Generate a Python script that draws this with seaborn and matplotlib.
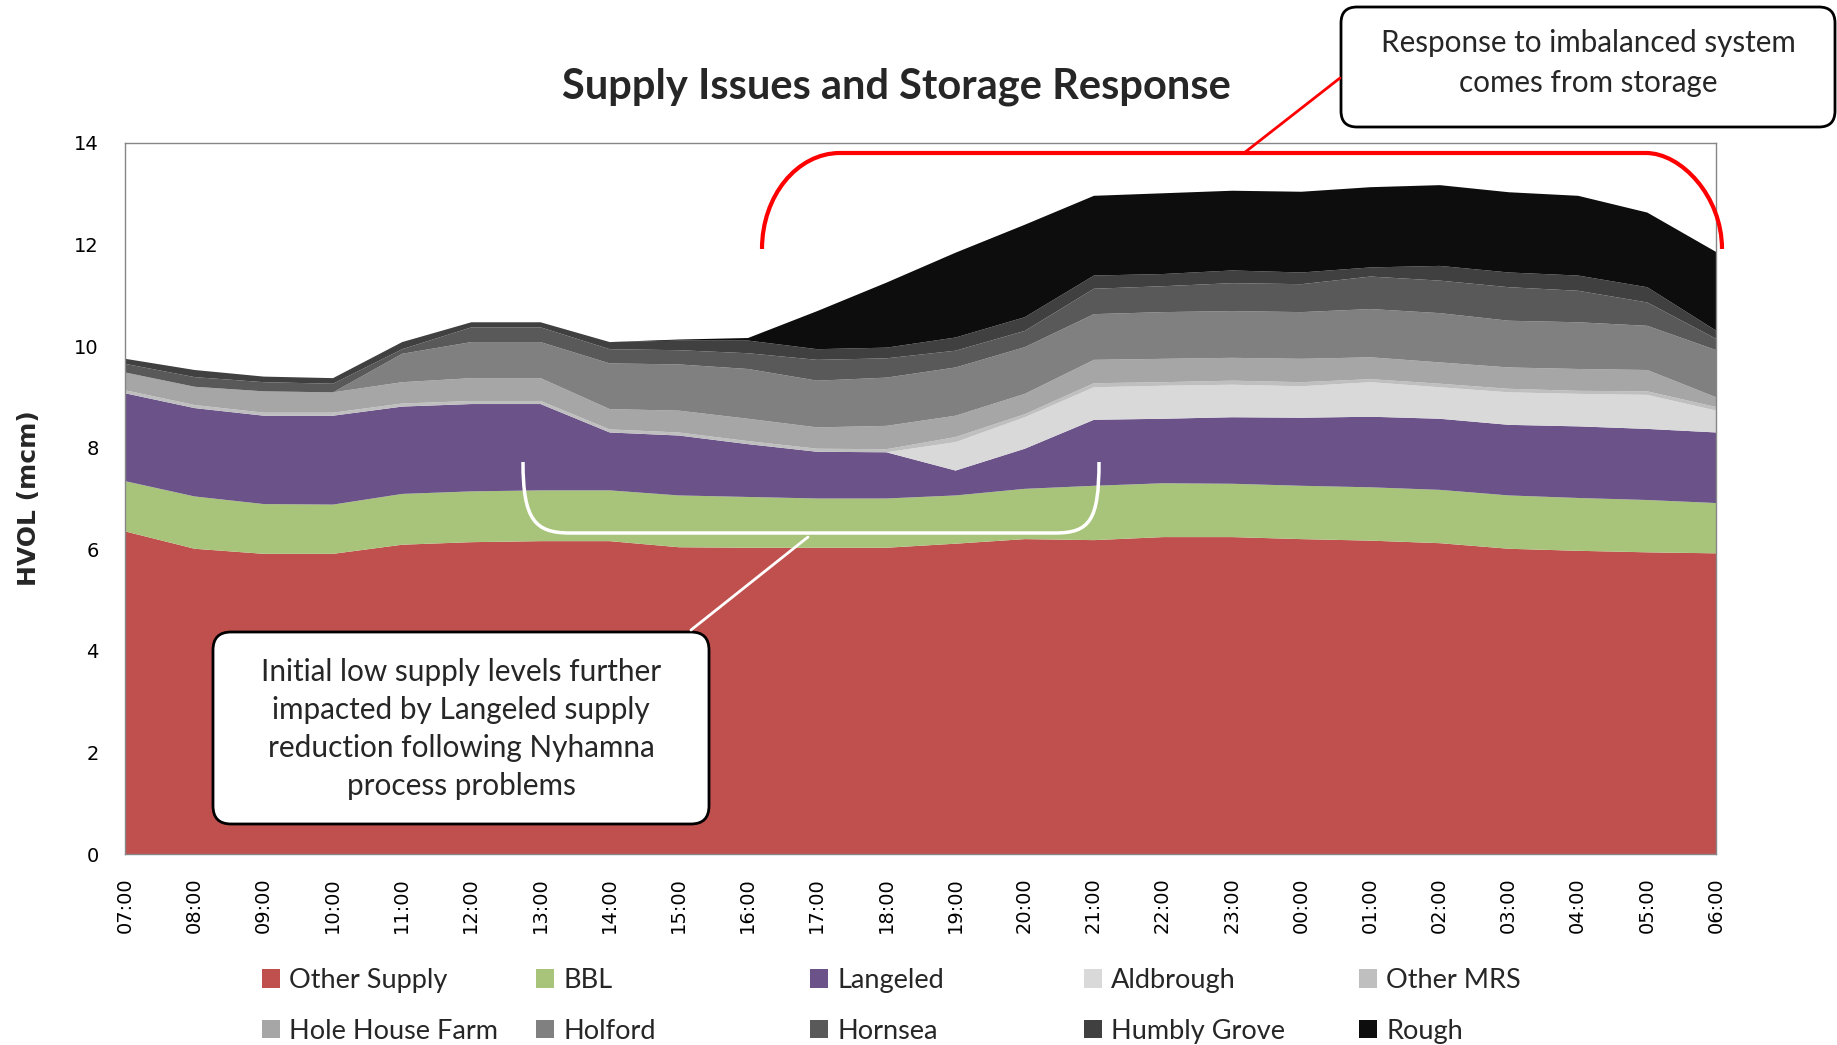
import numpy as np
import pandas as pd
import matplotlib
matplotlib.use("Agg")
import matplotlib.pyplot as plt
import matplotlib.transforms as mtransforms
from matplotlib.path import Path
from matplotlib.patches import PathPatch, FancyBboxPatch
from matplotlib.lines import Line2D
import seaborn as sns

hours = ["07:00", "08:00", "09:00", "10:00", "11:00", "12:00", "13:00", "14:00",
         "15:00", "16:00", "17:00", "18:00", "19:00", "20:00", "21:00", "22:00",
         "23:00", "00:00", "01:00", "02:00", "03:00", "04:00", "05:00", "06:00"]

other_supply = [6.36, 6.02, 5.92, 5.92, 6.10, 6.15, 6.17, 6.17, 6.05, 6.04, 6.04, 6.04,
                6.12, 6.21, 6.19, 6.25, 6.25, 6.21, 6.18, 6.13, 6.02, 5.98, 5.95, 5.93]
bbl = [0.99, 1.03, 0.98, 0.97, 1.00, 1.00, 1.00, 1.00, 1.02, 1.00, 0.97, 0.97,
       0.95, 0.99, 1.07, 1.06, 1.05, 1.05, 1.05, 1.05, 1.05, 1.04, 1.03, 0.99]
langeled = [1.73, 1.74, 1.74, 1.75, 1.72, 1.72, 1.70, 1.14, 1.18, 1.04, 0.92, 0.91,
            0.49, 0.79, 1.30, 1.27, 1.31, 1.34, 1.39, 1.40, 1.39, 1.41, 1.40, 1.39]
aldbrough = [0, 0, 0, 0, 0, 0, 0, 0, 0, 0, 0, 0,
             0.56, 0.62, 0.64, 0.65, 0.64, 0.62, 0.68, 0.62, 0.64, 0.64, 0.67, 0.43]
other_mrs = [0.06, 0.06, 0.06, 0.06, 0.06, 0.06, 0.06, 0.06, 0.06, 0.06, 0.06, 0.06,
             0.10, 0.06, 0.08, 0.07, 0.08, 0.08, 0.06, 0.07, 0.07, 0.06, 0.07, 0.07]
hole_house_farm = [0.35, 0.36, 0.42, 0.40, 0.42, 0.45, 0.45, 0.40, 0.43, 0.44, 0.42, 0.46,
                   0.42, 0.40, 0.46, 0.46, 0.45, 0.46, 0.43, 0.42, 0.42, 0.43, 0.42, 0.19]
holford = [0, 0, 0, 0, 0.56, 0.71, 0.71, 0.90, 0.91, 0.98, 0.92, 0.95,
           0.95, 0.92, 0.90, 0.92, 0.92, 0.92, 0.95, 0.97, 0.92, 0.92, 0.87, 0.93]
hornsea = [0.17, 0.19, 0.18, 0.17, 0.09, 0.29, 0.29, 0.28, 0.28, 0.31, 0.41, 0.38,
           0.33, 0.32, 0.50, 0.51, 0.55, 0.55, 0.64, 0.64, 0.66, 0.62, 0.46, 0.22]
humbly_grove = [0.10, 0.14, 0.11, 0.11, 0.14, 0.10, 0.10, 0.14, 0.19, 0.25, 0.21, 0.21,
                0.26, 0.27, 0.26, 0.24, 0.25, 0.23, 0.18, 0.29, 0.29, 0.30, 0.30, 0.16]
rough = [0, 0, 0, 0, 0, 0, 0, 0, 0.02, 0.05, 0.75, 1.28,
         1.67, 1.82, 1.57, 1.59, 1.57, 1.59, 1.58, 1.59, 1.58, 1.57, 1.47, 1.55]

series_names = ["Other Supply", "BBL", "Langeled", "Aldbrough", "Other MRS",
                "Hole House Farm", "Holford", "Hornsea", "Humbly Grove", "Rough"]
series_colors = ["#C0504D", "#A8C47A", "#6B538A", "#D9D9D9", "#BFBFBF",
                 "#A6A6A6", "#808080", "#595959", "#404040", "#0D0D0D"]

df = pd.DataFrame({
    "Other Supply": other_supply, "BBL": bbl, "Langeled": langeled,
    "Aldbrough": aldbrough, "Other MRS": other_mrs, "Hole House Farm": hole_house_farm,
    "Holford": holford, "Hornsea": hornsea, "Humbly Grove": humbly_grove, "Rough": rough,
}, index=hours)

sns.set_style("white")
plt.rcParams["font.family"] = ["DejaVu Sans"]

W, H = 1837, 1045
fig = plt.figure(figsize=(W / 100, H / 100), dpi=100)
ax = fig.add_axes([125 / W, 1 - 854 / H, (1716 - 125) / W, (854 - 143) / H])

x = np.arange(len(hours))
ax.stackplot(x, *[df[c].values for c in series_names], labels=series_names,
             colors=series_colors, linewidth=0)

ax.set_xlim(0, len(hours) - 1)
ax.set_ylim(0, 14)
ax.set_yticks(range(0, 15, 2))
ax.set_xticks(x)
ax.set_xticklabels(hours, rotation=90)
for sp in ax.spines.values():
    sp.set_color("#868686")
    sp.set_linewidth(1)
ax.tick_params(axis="both", direction="out", length=7, width=1, color="#868686",
               labelsize=14, labelcolor="black")
ax.tick_params(axis="y", pad=12)
ax.tick_params(axis="x", pad=10)
ax.set_ylabel("HVOL (mcm)", fontsize=18, fontweight="bold")
ax.yaxis.set_label_coords(-0.053, 0.5)
ax.grid(False)

fig.text(896 / W, 1 - 87 / H, "Supply Issues and Storage Response", fontsize=30,
         fontweight="bold", family="Lato", ha="center", va="center")

# legend, laid out in fixed columns like the original
handles, labels = ax.get_legend_handles_labels()
col_x = [262, 536, 810, 1084, 1359]
for c in range(5):
    fig.legend([handles[c], handles[c + 5]], [labels[c], labels[c + 5]],
               loc="upper left", bbox_to_anchor=(col_x[c] / W, 1 - 968 / H),
               frameon=False, prop={"family": "Lato", "size": 19.5},
               handlelength=0.65, handleheight=0.65, handletextpad=0.35,
               labelspacing=0.95, borderpad=0, borderaxespad=0)

# annotations, positioned in pixel units (origin top-left)
pix = mtransforms.Affine2D().scale(1 / W, -1 / H).translate(0, 1) + fig.transFigure
C = Path.CURVE4
codes = [Path.MOVETO, C, C, C, Path.LINETO, C, C, C]

red = [(762, 249), (762, 196), (797, 153), (840, 153),
       (1646, 153), (1681, 153), (1722, 196), (1722, 249)]
fig.add_artist(PathPatch(Path(red, codes), transform=pix, fill=False,
                         ec="red", lw=3, clip_on=False))
fig.add_artist(Line2D([1244, 1340], [153, 78], transform=pix, color="red", lw=2))

white = [(523, 462), (523, 520), (535, 533), (570, 533),
         (1055, 533), (1090, 533), (1099, 520), (1099, 462)]
fig.add_artist(PathPatch(Path(white, codes), transform=pix, fill=False,
                         ec="white", lw=2.5, clip_on=False))
fig.add_artist(Line2D([808, 691], [537, 630], transform=pix, color="white", lw=2))

fig.add_artist(FancyBboxPatch((1341, 7), 494, 120, boxstyle="round,pad=0,rounding_size=16",
                              transform=pix, fc="white", ec="black", lw=2))
fig.text(1588 / W, 1 - 63 / H, "Response to imbalanced system\ncomes from storage",
         family="Lato", fontsize=21.3, ha="center", va="center", linespacing=1.55)

fig.add_artist(FancyBboxPatch((213, 632), 496, 192, boxstyle="round,pad=0,rounding_size=18",
                              transform=pix, fc="white", ec="black", lw=2))
fig.text(461 / W, 1 - 729 / H,
         "Initial low supply levels further\nimpacted by Langeled supply\n"
         "reduction following Nyhamna\nprocess problems",
         family="Lato", fontsize=21.4, ha="center", va="center", linespacing=1.44)

fig.savefig("out.png", dpi=100)
